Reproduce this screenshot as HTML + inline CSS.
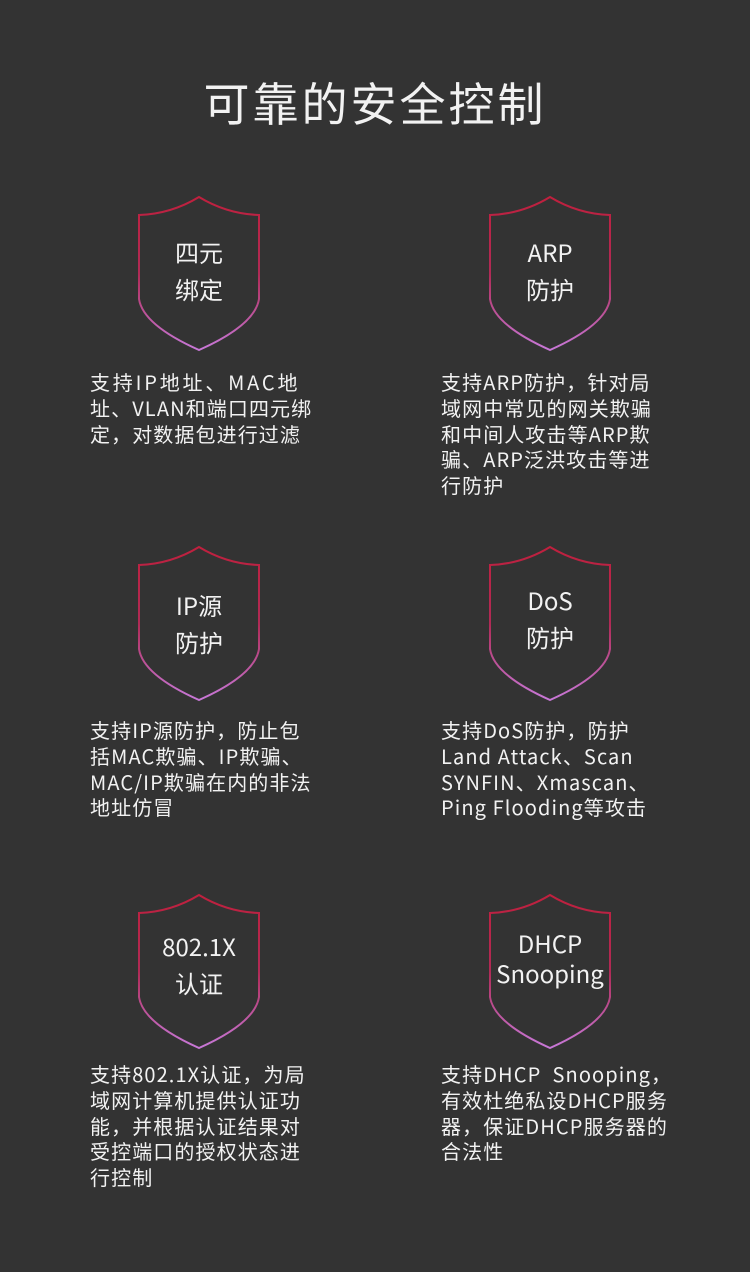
<!DOCTYPE html>
<html><head><meta charset="utf-8"><style>
body{margin:0;width:750px;height:1272px;background:#333333;position:relative;overflow:hidden;font-family:"Noto Sans CJK SC","Liberation Sans",sans-serif;color:#f2f2f2}
.t{position:absolute;top:72px;left:0;width:750px;text-align:center;font-size:46px;letter-spacing:3px;line-height:60px;font-weight:400}
.lb{position:absolute;width:130px;text-align:center;font-size:24px;line-height:37px;font-weight:400}
.tx{position:absolute;font-size:20px;line-height:25.8px;white-space:nowrap;font-weight:400;letter-spacing:1.1px}
</style></head><body>
<div class="t">可靠的安全控制</div>
<svg width="750" height="1272" style="position:absolute;left:0;top:0">
<defs><linearGradient id="g" x1="0" y1="0" x2="0" y2="1"><stop offset="0" stop-color="#c0203e"/><stop offset="0.5" stop-color="#b02a55"/><stop offset="1" stop-color="#c878d8"/></linearGradient></defs>
<g fill="none" stroke="url(#g)" stroke-width="2">
<path transform="translate(199,197)" d="M0,0 Q28,17 60,18 L60,102 Q56,128 0,153 Q-56,128 -60,102 L-60,18 Q-28,17 0,0Z"/>
<path transform="translate(550,197)" d="M0,0 Q28,17 60,18 L60,102 Q56,128 0,153 Q-56,128 -60,102 L-60,18 Q-28,17 0,0Z"/>
<path transform="translate(199,547)" d="M0,0 Q28,17 60,18 L60,102 Q56,128 0,153 Q-56,128 -60,102 L-60,18 Q-28,17 0,0Z"/>
<path transform="translate(550,547)" d="M0,0 Q28,17 60,18 L60,102 Q56,128 0,153 Q-56,128 -60,102 L-60,18 Q-28,17 0,0Z"/>
<path transform="translate(199,895)" d="M0,0 Q28,17 60,18 L60,102 Q56,128 0,153 Q-56,128 -60,102 L-60,18 Q-28,17 0,0Z"/>
<path transform="translate(550,895)" d="M0,0 Q28,17 60,18 L60,102 Q56,128 0,153 Q-56,128 -60,102 L-60,18 Q-28,17 0,0Z"/>
</g></svg>
<div class="lb" style="left:134px;top:233px">四元<br>绑定</div>
<div class="lb" style="left:485px;top:233px">ARP<br>防护</div>
<div class="lb" style="left:134px;top:586px">IP源<br>防护</div>
<div class="lb" style="left:485px;top:581px">DoS<br>防护</div>
<div class="lb" style="left:134px;top:927px">802.1X<br>认证</div>
<div class="lb" style="left:485px;top:928px;line-height:30px">DHCP<br>Snooping</div>
<div class="tx" style="left:90px;top:369px"><span style="letter-spacing:2.8px">支持IP地址、MAC地</span><br>址、VLAN和端口四元绑<br>定，对数据包进行过滤</div>
<div class="tx" style="left:441px;top:369px">支持ARP防护，针对局<br>域网中常见的网关欺骗<br>和中间人攻击等ARP欺<br>骗、ARP泛洪攻击等进<br>行防护</div>
<div class="tx" style="left:90px;top:717px">支持IP源防护，防止包<br>括MAC欺骗、IP欺骗、<br>MAC/IP欺骗在内的非法<br>地址仿冒</div>
<div class="tx" style="left:441px;top:717px">支持DoS防护，防护<br>Land Attack、Scan<br>SYNFIN、Xmascan、<br>Ping Flooding等攻击</div>
<div class="tx" style="left:90px;top:1061px">支持802.1X认证，为局<br>域网计算机提供认证功<br>能，并根据认证结果对<br>受控端口的授权状态进<br>行控制</div>
<div class="tx" style="left:441px;top:1061px">支持DHCP&nbsp; Snooping，<br>有效杜绝私设DHCP服务<br>器，保证DHCP服务器的<br>合法性</div>
</body></html>
